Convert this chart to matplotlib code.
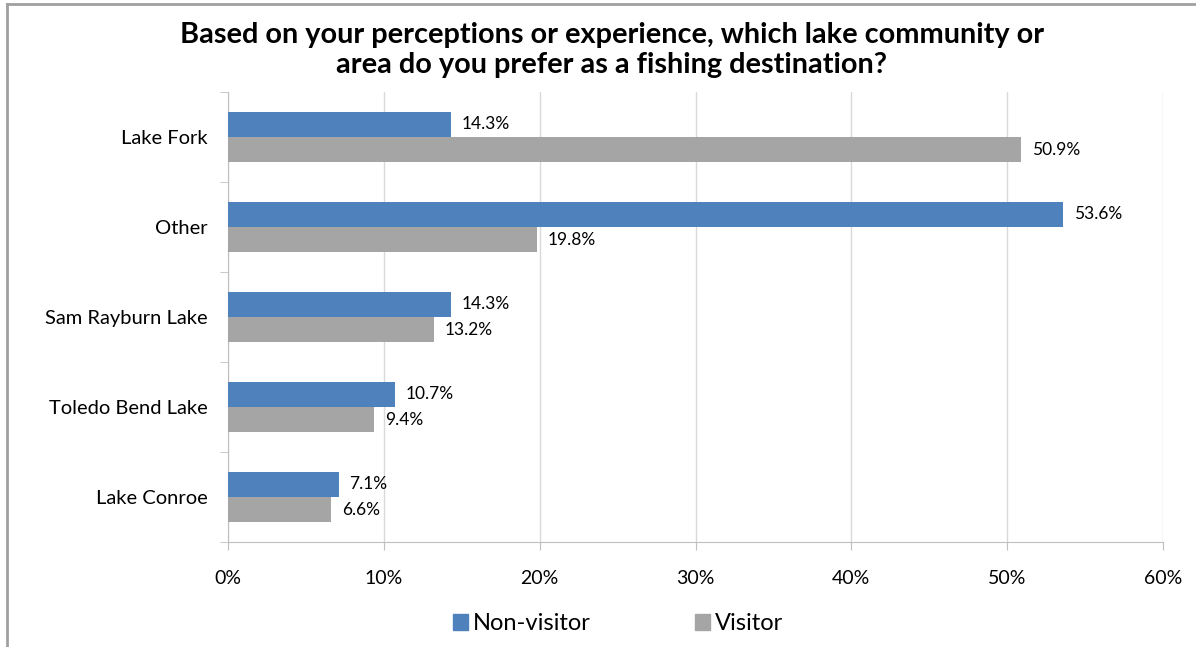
import matplotlib.pyplot as plt
import numpy as np
from matplotlib.lines import Line2D
from matplotlib.patches import Patch

# Survey results, top category first
categories = ['Lake Fork', 'Other', 'Sam Rayburn Lake', 'Toledo Bend Lake', 'Lake Conroe']
non_visitor = [14.3, 53.6, 14.3, 10.7, 7.1]
visitor = [50.9, 19.8, 13.2, 9.4, 6.6]
series_names = ['Non-visitor', 'Visitor']
x_ticks = [0, 10, 20, 30, 40, 50, 60]

BLUE = '#4f81bd'
GRAY = '#a5a5a5'
FONT = 'Lato'

fig = plt.figure(figsize=(11.96, 6.47), dpi=100)
ax = fig.add_axes([228 / 1196, 1 - 542 / 647, 935 / 1196, 450 / 647])

y = np.arange(len(categories))
bar_h = 0.278
ax.barh(y - bar_h / 2, non_visitor, height=bar_h, color=BLUE, zorder=3)
ax.barh(y + bar_h / 2, visitor, height=bar_h, color=GRAY, zorder=3)

for yi, v in zip(y, non_visitor):
    ax.text(v + 0.7, yi - bar_h / 2, f'{v:.1f}%', va='center', ha='left',
            fontsize=12.5, family=FONT, color='black')
for yi, v in zip(y, visitor):
    ax.text(v + 0.7, yi + bar_h / 2, f'{v:.1f}%', va='center', ha='left',
            fontsize=12.5, family=FONT, color='black')

ax.set_xlim(0, 60)
ax.set_ylim(len(categories) - 0.5, -0.5)
ax.set_xticks(x_ticks)
ax.set_xticklabels([f'{t}%' for t in x_ticks], family=FONT, fontsize=14)
ax.set_yticks(y)
ax.set_yticklabels(categories, family=FONT, fontsize=14.5)
ax.tick_params(axis='y', length=0, pad=14.5)
ax.tick_params(axis='x', length=6, color='#bfbfbf', pad=14, direction='out')

# category separators on the value axis
ax.set_yticks(np.arange(-0.5, len(categories)), minor=True)
ax.tick_params(axis='y', which='minor', length=6, color='#bfbfbf')

ax.grid(axis='x', color='#d9d9d9', linewidth=1, zorder=0)
for side in ['top', 'right']:
    ax.spines[side].set_visible(False)
for side in ['left', 'bottom']:
    ax.spines[side].set_color('#bfbfbf')

fig.text(612 / 1196, 1 - 50 / 647,
         'Based on your perceptions or experience, which lake community or\n'
         'area do you prefer as a fishing destination?',
         ha='center', va='center', fontsize=20.8, fontweight='bold', family=FONT,
         linespacing=1.2)

handles = [Patch(color=BLUE), Patch(color=GRAY)]
fig.legend(handles, series_names, loc='center', bbox_to_anchor=(618 / 1196, 1 - 624 / 647),
           ncol=2, frameon=False, prop={'family': FONT, 'size': 17},
           handlelength=0.65, handleheight=0.65, handletextpad=0.2, columnspacing=4.4)

# chart frame
fig.add_artist(Line2D([7 / 1196, 7 / 1196], [0, 1 - 4 / 647], color='#a0a0a0', lw=2))
fig.add_artist(Line2D([7 / 1196, 1], [1 - 4 / 647, 1 - 4 / 647], color='#a0a0a0', lw=2))

fig.savefig('out.png', dpi=100)
